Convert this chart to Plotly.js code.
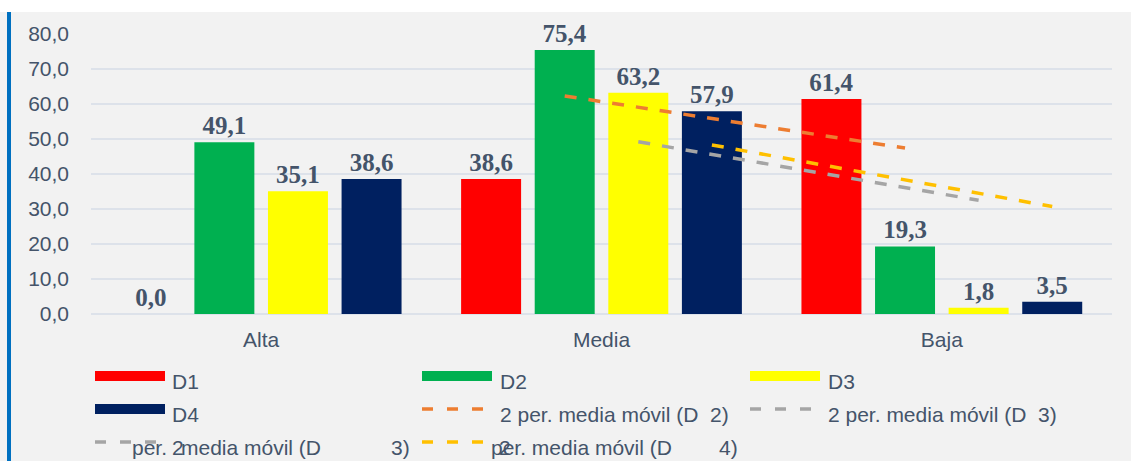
<!DOCTYPE html>
<html><head><meta charset="utf-8">
<script src="https://cdn.plot.ly/plotly-3.0.1.min.js"></script>
<style>html,body{margin:0;padding:0;background:#fff;width:1131px;height:461px;overflow:hidden}
#chart{position:absolute;left:0;top:12px;width:1131px;height:449px}</style>
</head><body><div id="chart"></div>
<script>
// ---- data ----
const categories = ['Alta', 'Media', 'Baja'];
const seriesNames = ['D1', 'D2', 'D3', 'D4'];
const d1 = [0, 38.6, 61.4];
const d2 = [49.1, 75.4, 19.3];
const d3 = [35.1, 63.2, 1.8];
const d4 = [38.6, 57.9, 3.5];
const barColors = ['#ff0000', '#00b050', '#ffff00', '#002060'];
// 2-period moving averages
const ma2 = [null, 62.3, 47.4];
const ma3 = [null, 49.2, 32.5];
const ma4 = [null, 48.3, 30.7];
const maNames = ['2 per. media móvil (D  2)', '2 per. media móvil (D  3)', '2 per. media móvil (D  4)'];
const maColors = ['#ed7d31', '#a5a5a5', '#ffc000'];
const yTicks = [0, 10, 20, 30, 40, 50, 60, 70, 80];

// ---- layout constants ----
const W = 1131, H = 449, ML = 91, MR = 19, MT = 22, MB = 147, TOP = 12;
const PW = W - ML - MR, PH = H - MT - MB;
const xp = px => (px - ML) / PW;
const yp = py => (H - MB - (py - TOP)) / PH;
const bargap = 0.135, bargroupgap = 0.185;
const slot = (1 - bargap) / 4;
const offsetOf = k => -(1 - bargap) / 2 + slot * (k + 0.5);

const txtColor = '#44546a';
const sans = 'Liberation Sans, Arial, sans-serif';

const seriesVals = [d1, d2, d3, d4];
const traces = seriesVals.map((v, k) => ({
  type: 'bar', x: categories, y: v, name: seriesNames[k],
  marker: {color: barColors[k]},
  texttemplate: '<b>%{y:.1f}</b>', textposition: 'outside', cliponaxis: false,
  constraintext: 'none',
  textfont: {family: 'Liberation Serif, Times New Roman, serif', size: 25, color: txtColor},
  hoverinfo: 'skip', showlegend: false
}));
[ma2, ma3, ma4].forEach((v, j) => {
  const k = j + 1;
  traces.push({
    type: 'scatter', mode: 'lines', xaxis: 'x2', yaxis: 'y',
    x: categories.map((c, i) => i + offsetOf(k)), y: v, name: maNames[j],
    line: {color: maColors[j], width: 3.5, dash: '12px,12px'},
    hoverinfo: 'skip', showlegend: false, cliponaxis: false
  });
});

// ---- custom legend ----
const shapes = [{
  type: 'rect', xref: 'paper', yref: 'paper', x0: xp(7), x1: xp(11), y0: yp(461), y1: yp(12),
  fillcolor: '#0070c0', line: {width: 0}, layer: 'above'
}];
const annotations = [];
function legSym(x0, x1, y, color, dashed) {
  shapes.push({type: 'line', xref: 'paper', yref: 'paper', x0: xp(x0), x1: xp(x1), y0: yp(y), y1: yp(y),
    line: {color: color, width: dashed ? 3.5 : 10, dash: dashed ? '11px,14px' : 'solid'}});
}
function legTxt(x, y, t) {
  annotations.push({xref: 'paper', yref: 'paper', x: xp(x), y: yp(y), text: t, showarrow: false,
    xanchor: 'left', yanchor: 'middle', font: {family: sans, size: 21, color: txtColor}});
}
const rowY = [376, 409, 442];
const tOff = 5;
legSym(95, 165, rowY[0], barColors[0], false); legTxt(170, rowY[0] + tOff, seriesNames[0]);
legSym(422, 492, rowY[0], barColors[1], false); legTxt(498, rowY[0] + tOff, seriesNames[1]);
legSym(750, 820, rowY[0], barColors[2], false); legTxt(826, rowY[0] + tOff, seriesNames[2]);
legSym(95, 165, rowY[1], barColors[3], false); legTxt(170, rowY[1] + tOff, seriesNames[3]);
legSym(422, 489, rowY[1], maColors[0], true); legTxt(498, rowY[1] + tOff, maNames[0]);
legSym(750, 817, rowY[1], maColors[1], true); legTxt(826, rowY[1] + tOff, maNames[1]);
legSym(95, 160, rowY[2], maColors[1], true);
legTxt(130, rowY[2] + tOff, 'per.'); legTxt(170, rowY[2] + tOff, '2');
legTxt(179, rowY[2] + tOff, 'media móvil (D'); legTxt(389, rowY[2] + tOff, '3)');
legSym(422, 489, rowY[2], maColors[2], true);
legTxt(489, rowY[2] + tOff, 'per. media móvil (D'); legTxt(497, rowY[2] + tOff, '2');
legTxt(717, rowY[2] + tOff, '4)');

const layout = {
  width: W, height: H,
  margin: {l: ML, r: MR, t: MT, b: MB, pad: 0},
  paper_bgcolor: '#f2f2f2', plot_bgcolor: '#f2f2f2',
  separators: ',.',
  barmode: 'group', bargap: bargap, bargroupgap: bargroupgap,
  showlegend: false,
  xaxis: {type: 'category', range: [-0.5, 2.5], showgrid: false, zeroline: false, showline: false,
    ticks: '', tickfont: {family: sans, size: 21, color: txtColor}, ticklabelstandoff: 11, fixedrange: true},
  xaxis2: {overlaying: 'x', range: [-0.5, 2.5], visible: false, fixedrange: true},
  yaxis: {range: [0, 80], tickvals: yTicks, tickformat: '.1f', showgrid: true, gridcolor: '#dde2ea', gridwidth: 2,
    zeroline: true, zerolinecolor: '#dde2ea', zerolinewidth: 2, showline: false, ticks: '',
    tickfont: {family: sans, size: 21, color: txtColor}, ticklabelstandoff: 21, fixedrange: true},
  shapes: shapes, annotations: annotations
};
Plotly.newPlot('chart', traces, layout, {displayModeBar: false, staticPlot: true});
</script></body></html>
